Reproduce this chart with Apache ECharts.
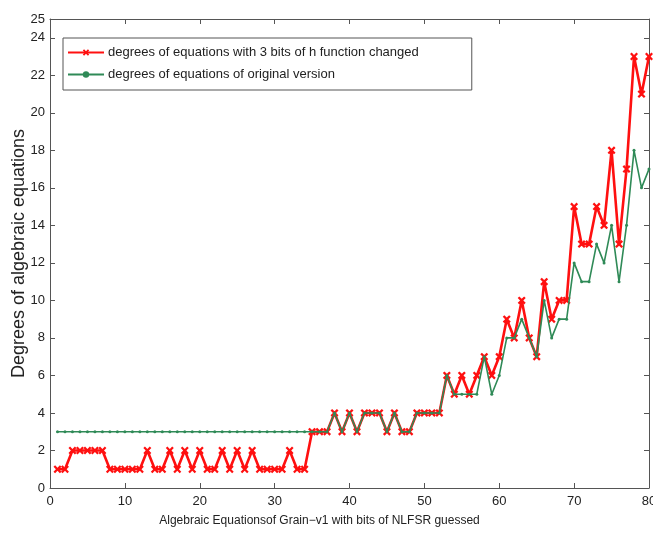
<!DOCTYPE html>
<html>
<head>
<meta charset="utf-8">
<script src="https://cdn.jsdelivr.net/npm/echarts@6/dist/echarts.min.js"></script>
<style>
  html, body { margin: 0; padding: 0; background: #fff; }
  #chart { width: 653px; height: 533px; }
</style>
</head>
<body>
<div id="chart"></div>
<script>
// Number of NLFSR bits guessed (x positions 1..80)
const bitsGuessed = [
  1, 2, 3, 4, 5, 6, 7, 8, 9, 10, 11, 12, 13, 14, 15, 16, 17, 18, 19, 20,
  21, 22, 23, 24, 25, 26, 27, 28, 29, 30, 31, 32, 33, 34, 35, 36, 37, 38, 39, 40,
  41, 42, 43, 44, 45, 46, 47, 48, 49, 50, 51, 52, 53, 54, 55, 56, 57, 58, 59, 60,
  61, 62, 63, 64, 65, 66, 67, 68, 69, 70, 71, 72, 73, 74, 75, 76, 77, 78, 79, 80
];

// Degrees with 3 bits of the h function changed
const degreesChanged = [
  1, 1, 2, 2, 2, 2, 2, 1, 1, 1, 1, 1, 2, 1, 1, 2, 1, 2, 1, 2,
  1, 1, 2, 1, 2, 1, 2, 1, 1, 1, 1, 2, 1, 1, 3, 3, 3, 4, 3, 4,
  3, 4, 4, 4, 3, 4, 3, 3, 4, 4, 4, 4, 6, 5, 6, 5, 6, 7, 6, 7,
  9, 8, 10, 8, 7, 11, 9, 10, 10, 15, 13, 13, 15, 14, 18, 13, 17, 23, 21, 23
];

// Degrees of the original version
const degreesOriginal = [
  3, 3, 3, 3, 3, 3, 3, 3, 3, 3, 3, 3, 3, 3, 3, 3, 3, 3, 3, 3,
  3, 3, 3, 3, 3, 3, 3, 3, 3, 3, 3, 3, 3, 3, 3, 3, 3, 4, 3, 4,
  3, 4, 4, 4, 3, 4, 3, 3, 4, 4, 4, 4, 6, 5, 5, 5, 5, 7, 5, 6,
  8, 8, 9, 8, 7, 10, 8, 9, 9, 12, 11, 11, 13, 12, 14, 11, 14, 18, 16, 17
];

const xTicks = [0, 10, 20, 30, 40, 50, 60, 70, 80];
const yTicks = [0, 2, 4, 6, 8, 10, 12, 14, 16, 18, 20, 22, 24, 25];

const seriesNames = [
  'degrees of equations with 3 bits of h function changed',
  'degrees of equations of original version'
];

const RED = '#ff1010';
const GREEN = '#2f8a57';
const AXIS = '#555555';
const TEXT = '#222222';
const FONT = '"Liberation Sans", Arial, sans-serif';

const crossPath = 'path://M0,2L2,0L5,3L8,0L10,2L7,5L10,8L8,10L5,7L2,10L0,8L3,5Z';

const pairs = (ys) => bitsGuessed.map((x, i) => [x, ys[i]]);

const chart = echarts.init(document.getElementById('chart'), null, { renderer: 'canvas' });

// shared look of the boxed frame: thin grey lines, ticks pointing inward
function frameAxis(extra) {
  return Object.assign({
    axisLine: { show: true, onZero: false, lineStyle: { color: AXIS, width: 1 } },
    axisTick: { show: true, inside: true, length: 5, lineStyle: { color: AXIS } },
    splitLine: { show: false }
  }, extra);
}

const xRange = { type: 'value', min: xTicks[0], max: xTicks[xTicks.length - 1], interval: 10 };
const yRange = { type: 'value', min: yTicks[0], max: yTicks[yTicks.length - 1], interval: 2 };

chart.setOption({
  animation: false,
  backgroundColor: '#fff',
  grid: { left: 50, right: 4, top: 19, bottom: 45, outerBoundsMode: 'none', containLabel: false },
  legend: {
    orient: 'vertical',
    left: 63,
    top: 38,
    padding: [8, 53, 9, 4],
    itemGap: 9,
    itemWidth: 36,
    itemHeight: 8,
    backgroundColor: '#fff',
    borderColor: '#555',
    borderWidth: 1,
    borderRadius: 0,
    textStyle: { fontFamily: FONT, fontSize: 13, color: TEXT, padding: [0, 0, 0, -1] },
    data: seriesNames
  },
  xAxis: [
    frameAxis(Object.assign({}, xRange, {
      position: 'bottom',
      name: 'Algebraic Equationsof Grain\u2212v1 with bits of NLFSR guessed',
      nameLocation: 'middle',
      nameGap: 27,
      nameMoveOverlap: false,
      nameTextStyle: { fontFamily: FONT, fontSize: 12, color: TEXT, padding: [0, 60, 0, 0] },
      axisLabel: { margin: 7, fontFamily: FONT, fontSize: 13, color: TEXT }
    })),
    frameAxis(Object.assign({}, xRange, {
      position: 'top',
      axisLabel: { show: false }
    }))
  ],
  yAxis: [
    frameAxis(Object.assign({}, yRange, {
      position: 'left',
      name: 'Degrees of algebraic equations',
      nameLocation: 'middle',
      nameGap: 22,
      nameMoveOverlap: false,
      nameTextStyle: { fontFamily: FONT, fontSize: 18, color: TEXT },
      axisLabel: { margin: 5, fontFamily: FONT, fontSize: 13, color: TEXT }
    })),
    frameAxis(Object.assign({}, yRange, {
      position: 'right',
      axisLabel: { show: false }
    }))
  ],
  series: [
    {
      name: seriesNames[0],
      type: 'line',
      xAxisIndex: 0,
      yAxisIndex: 0,
      data: pairs(degreesChanged),
      symbol: crossPath,
      symbolSize: 8,
      showAllSymbol: true,
      lineStyle: { color: RED, width: 2.6 },
      itemStyle: { color: RED },
      z: 3
    },
    {
      name: seriesNames[1],
      type: 'line',
      xAxisIndex: 0,
      yAxisIndex: 0,
      data: pairs(degreesOriginal),
      symbol: 'circle',
      symbolSize: 3,
      showAllSymbol: true,
      lineStyle: { color: GREEN, width: 1.6 },
      itemStyle: { color: GREEN },
      z: 4
    }
  ]
});
</script>
</body>
</html>
